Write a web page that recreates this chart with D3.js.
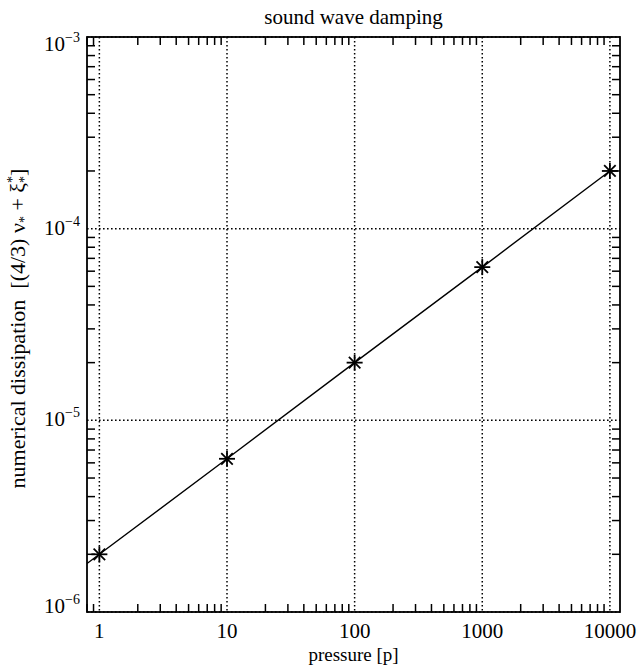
<!DOCTYPE html>
<html>
<head>
<meta charset="utf-8">
<script src="https://cdn.jsdelivr.net/npm/d3@7"></script>
<style>
  html, body { margin: 0; padding: 0; background: #fff; }
  svg { display: block; }
  text { font-family: "Liberation Serif", "DejaVu Serif", serif; fill: #000; }
</style>
</head>
<body>
<svg id="chart" width="640" height="667"></svg>
<script>
// Pressure values and measured numerical dissipation
const pressure = [1, 10, 100, 1000, 10000];
const dissipation = [2.0e-6, 6.3e-6, 2.0e-5, 6.3e-5, 2.0e-4];

// Axis ticks
const xTicks = [1, 10, 100, 1000, 10000];
const xTickLabels = ["1", "10", "100", "1000", "10000"];
const yTicks = [1e-6, 1e-5, 1e-4, 1e-3];
const yTickExponents = ["\u22126", "\u22125", "\u22124", "\u22123"];

const titleText = "sound wave damping";
const xTitle = "pressure [p]";

(function () {
const svg = d3.select("#chart");
const pL = 87, pR = 620, pT = 37, pB = 612;

const x = d3.scaleLog().domain([0.8, 12000]).range([pL, pR]);
const y = d3.scaleLog().domain([1e-6, 1e-3]).range([pB, pT]);

// minor tick values: k * 10^n inside each domain
function minors(scale) {
  const [a, b] = scale.domain();
  const out = [];
  for (let e = Math.floor(Math.log10(a)); e <= Math.ceil(Math.log10(b)); e++) {
    for (let k = 2; k <= 9; k++) {
      const v = k * Math.pow(10, e);
      if (v >= a && v <= b) out.push(v);
    }
  }
  return out;
}

const g = svg.append("g");
const tickLen = 8;

// dotted grid at the major ticks
g.selectAll("line.gx").data(xTicks).join("line")
  .attr("x1", d => x(d)).attr("x2", d => x(d))
  .attr("y1", pT).attr("y2", pB)
  .attr("stroke", "#000").attr("stroke-width", 1.5)
  .attr("stroke-dasharray", "1.6,2.4");
g.selectAll("line.gy").data(yTicks).join("line")
  .attr("y1", d => y(d)).attr("y2", d => y(d))
  .attr("x1", pL).attr("x2", pR)
  .attr("stroke", "#000").attr("stroke-width", 1.5)
  .attr("stroke-dasharray", "1.6,2.4");

// minor ticks on all four sides
const xm = minors(x), ym = minors(y);
g.selectAll("line.mxb").data(xm).join("line")
  .attr("x1", d => x(d)).attr("x2", d => x(d))
  .attr("y1", pB).attr("y2", pB - tickLen)
  .attr("stroke", "#000").attr("stroke-width", 1.5);
g.selectAll("line.mxt").data(xm).join("line")
  .attr("x1", d => x(d)).attr("x2", d => x(d))
  .attr("y1", pT).attr("y2", pT + tickLen)
  .attr("stroke", "#000").attr("stroke-width", 1.5);
g.selectAll("line.myl").data(ym).join("line")
  .attr("y1", d => y(d)).attr("y2", d => y(d))
  .attr("x1", pL).attr("x2", pL + tickLen)
  .attr("stroke", "#000").attr("stroke-width", 1.5);
g.selectAll("line.myr").data(ym).join("line")
  .attr("y1", d => y(d)).attr("y2", d => y(d))
  .attr("x1", pR).attr("x2", pR - tickLen)
  .attr("stroke", "#000").attr("stroke-width", 1.5);

// frame
g.append("rect")
  .attr("x", pL).attr("y", pT)
  .attr("width", pR - pL).attr("height", pB - pT)
  .attr("fill", "none").attr("stroke", "#000").attr("stroke-width", 1.8);

// data line, clipped to the plot box; extended to the left edge along the first segment
svg.append("clipPath").attr("id", "plotclip")
  .append("rect").attr("x", pL).attr("y", pT)
  .attr("width", pR - pL).attr("height", pB - pT);

const pts = pressure.map((p, i) => ({p, v: dissipation[i]}));
const slope = Math.log10(pts[1].v / pts[0].v) / Math.log10(pts[1].p / pts[0].p);
const x0 = x.domain()[0];
const lead = {p: x0, v: pts[0].v * Math.pow(x0 / pts[0].p, slope)};
const lineData = [lead].concat(pts);

g.append("path")
  .datum(lineData)
  .attr("clip-path", "url(#plotclip)")
  .attr("fill", "none").attr("stroke", "#000").attr("stroke-width", 1.4)
  .attr("d", d3.line().x(d => x(d.p)).y(d => y(d.v)));

// asterisk markers
const r = 8;
const arms = [[r, 0], [0, r], [r * 0.72, r * 0.72], [r * 0.72, -r * 0.72]];
const mk = g.selectAll("g.mk").data(pts).join("g")
  .attr("transform", d => `translate(${x(d.p)},${y(d.v)})`);
arms.forEach(([dx, dy]) => {
  mk.append("line")
    .attr("x1", -dx).attr("y1", -dy).attr("x2", dx).attr("y2", dy)
    .attr("stroke", "#000").attr("stroke-width", 1.8);
});

// x tick labels
g.selectAll("text.xl").data(xTicks).join("text")
  .attr("x", d => x(d)).attr("y", 638)
  .attr("text-anchor", "middle").attr("font-size", 21)
  .text((d, i) => xTickLabels[i]);

// y tick labels: 10 with superscript exponent, kept inside the frame's vertical span
const yl = g.selectAll("text.yl").data(yTicks).join("text")
  .attr("x", 80)
  .attr("y", d => Math.min(pB + 1, Math.max(pT + 14, y(d) + 6)))
  .attr("text-anchor", "end").attr("font-size", 21);
yl.append("tspan").text("10");
yl.append("tspan").attr("dy", -9).attr("font-size", 14)
  .text((d, i) => yTickExponents[i]);

// title and axis titles
svg.append("text").attr("x", (pL + pR) / 2).attr("y", 24)
  .attr("text-anchor", "middle").attr("font-size", 21).text(titleText);
svg.append("text").attr("x", (pL + pR) / 2).attr("y", 661)
  .attr("text-anchor", "middle").attr("font-size", 19).text(xTitle);

const yt = svg.append("text")
  .attr("transform", `translate(25,${(pT + pB) / 2 + 4}) rotate(-90)`)
  .attr("text-anchor", "middle").attr("font-size", 22);
yt.append("tspan").text("numerical dissipation\u00a0\u00a0[(4/3) \u03bd");
yt.append("tspan").attr("dy", 4).attr("font-size", 14).text("*");
yt.append("tspan").attr("dy", -4).text(" + \u03be");
yt.append("tspan").attr("dy", -8).attr("font-size", 14).text("*");
yt.append("tspan").attr("dx", -7).attr("dy", 12).attr("font-size", 14).text("*");
yt.append("tspan").attr("dy", -4).text("]");
})();
</script>
</body>
</html>
